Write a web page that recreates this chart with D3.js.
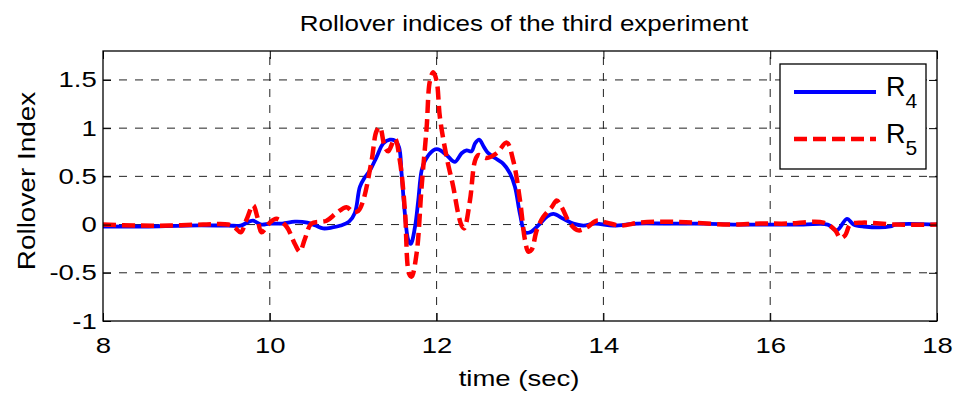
<!DOCTYPE html>
<html>
<head>
<meta charset="utf-8">
<script src="https://cdn.jsdelivr.net/npm/d3@7"></script>
<style>
    body { margin: 0; background: #fff; }
    svg { display: block; font-family: "Liberation Sans", Arial, sans-serif; }
</style>
</head>
<body>
<script>
// R4 (solid blue)
const timeR4 = [8.0, 8.5, 9.0, 9.5, 9.65, 9.75, 9.8, 9.9, 10.0, 10.15, 10.3, 10.45, 10.55, 10.64, 10.75, 10.85,
    10.95, 11.02, 11.08, 11.14, 11.2, 11.28, 11.36, 11.44, 11.5, 11.55, 11.58, 11.62, 11.66, 11.69, 11.74,
    11.78, 11.82, 11.86, 11.96, 12.02, 12.12, 12.22, 12.3, 12.36, 12.42, 12.46, 12.51, 12.57, 12.62, 12.7,
    12.8, 12.88, 12.94, 13.0, 13.06, 13.12, 13.24, 13.32, 13.4, 13.52, 13.64, 13.76, 13.9, 14.12, 14.4,
    14.8, 15.2, 15.6, 16.0, 16.4, 16.69, 16.8, 16.92, 17.0, 17.12, 17.44, 17.5, 18.0];
const valuesR4 = [-0.02, -0.02, -0.01, -0.01, -0.01, 0.03, 0.04, 0.0, 0.01, 0.01, 0.03, 0.02, -0.01, -0.04, -0.03, -0.01,
    0.03, 0.12, 0.39, 0.49, 0.56, 0.7, 0.84, 0.88, 0.87, 0.8, 0.53, 0.11, -0.16, -0.2, -0.03,
    0.25, 0.56, 0.66, 0.77, 0.78, 0.72, 0.65, 0.74, 0.77, 0.76, 0.84, 0.88, 0.8, 0.74, 0.69,
    0.63, 0.53, 0.39, 0.11, -0.08, -0.08, 0.01, 0.08, 0.11, 0.06, 0.01, -0.01, 0.01, -0.01, 0.01,
    0.01, 0.01, 0.0, 0.0, 0.0, 0.0, -0.06, 0.06, 0.0, -0.02, -0.02, 0.0, 0.0];

// R5 (dashed red)
const timeR5 = [8.0, 8.4, 8.8, 9.2, 9.5, 9.58, 9.65, 9.72, 9.8, 9.85, 9.9, 10.0, 10.08, 10.2, 10.3, 10.36, 10.42,
    10.5, 10.68, 10.8, 10.92, 11.0, 11.06, 11.12, 11.22, 11.28, 11.32, 11.38, 11.42, 11.5, 11.56, 11.62,
    11.67, 11.7, 11.76, 11.82, 11.88, 11.92, 11.96, 12.0, 12.04, 12.12, 12.2, 12.26, 12.3, 12.33, 12.4,
    12.46, 12.5, 12.6, 12.72, 12.84, 12.92, 13.0, 13.06, 13.1, 13.14, 13.2, 13.28, 13.38, 13.44, 13.5,
    13.6, 13.7, 13.8, 13.92, 14.04, 14.2, 14.44, 14.76, 15.08, 15.5, 15.88, 16.2, 16.64, 16.78, 16.84,
    16.9, 16.96, 17.1, 17.5, 18.0];
const valuesR5 = [0.0, -0.01, -0.01, 0.0, 0.0, -0.03, -0.08, 0.05, 0.2, 0.08, -0.08, 0.02, 0.06, -0.02, -0.2, -0.28, -0.15,
    0.01, 0.04, 0.12, 0.18, 0.13, 0.14, 0.25, 0.66, 0.97, 1.01, 0.8, 0.76, 0.89, 0.66, 0.15,
    -0.51, -0.54, -0.3, 0.39, 1.0, 1.49, 1.58, 1.49, 1.11, 0.7, 0.39, 0.11, -0.01, -0.04, 0.25,
    0.66, 0.72, 0.69, 0.74, 0.85, 0.66, 0.25, -0.16, -0.28, -0.26, -0.06, 0.08, 0.18, 0.25, 0.18,
    0.01, -0.06, -0.03, 0.04, 0.02, -0.01, 0.02, 0.03, 0.02, 0.0, 0.01, 0.01, 0.02, -0.06, -0.14,
    -0.11, 0.0, 0.02, 0.0, 0.0];

const xTicks = [8, 10, 12, 14, 16, 18];
const yTicks = [-1, -0.5, 0, 0.5, 1, 1.5];
const seriesNames = ['4', '5'];

drawChart();

function drawChart()
{
    const width = 954;
    const height = 395;
    const margin = {top: 51, right: 17, bottom: 74, left: 103};
    const stretch = 'scale(1.25,1)';

    const svg = d3.select('body')
        .append('svg')
        .attr('width', width)
        .attr('height', height);

    const x = d3.scaleLinear([8, 18], [margin.left, width - margin.right]);
    const y = d3.scaleLinear([-1, 1.8], [height - margin.bottom, margin.top]);

    // dashed grid
    const grid = svg.append('g')
        .attr('stroke', '#222')
        .attr('stroke-width', 1)
        .attr('stroke-dasharray', '8,8');

    grid.selectAll('.vgrid')
        .data(xTicks.slice(1, -1))
        .enter()
        .append('line')
        .attr('x1', d => x(d)).attr('x2', d => x(d))
        .attr('y1', y.range()[0]).attr('y2', y.range()[1]);

    grid.selectAll('.hgrid')
        .data(yTicks.slice(1))
        .enter()
        .append('line')
        .attr('x1', x.range()[0]).attr('x2', x.range()[1])
        .attr('y1', d => y(d)).attr('y2', d => y(d));

    // curves
    const line = d3.line()
        .x(d => x(d[0]))
        .y(d => y(d[1]))
        .curve(d3.curveCatmullRom.alpha(0.5));

    svg.append('path')
        .datum(d3.zip(timeR4, valuesR4))
        .attr('fill', 'none')
        .attr('stroke', '#0000ff')
        .attr('stroke-width', 3.8)
        .attr('stroke-linejoin', 'round')
        .attr('d', line);

    svg.append('path')
        .datum(d3.zip(timeR5, valuesR5))
        .attr('fill', 'none')
        .attr('stroke', '#ff0000')
        .attr('stroke-width', 4.5)
        .attr('stroke-dasharray', '13,6')
        .attr('d', line);

    // axes with inward ticks on all sides
    const plain = d => String(d);
    const bottom = svg.append('g')
        .attr('transform', `translate(0,${height - margin.bottom})`)
        .call(d3.axisBottom(x).tickValues(xTicks).tickFormat(plain)
            .tickSizeInner(-8).tickSizeOuter(0).tickPadding(16));
    const left = svg.append('g')
        .attr('transform', `translate(${margin.left},0)`)
        .call(d3.axisLeft(y).tickValues(yTicks).tickFormat(plain)
            .tickSizeInner(-8).tickSizeOuter(0).tickPadding(5));
    svg.append('g')
        .attr('transform', `translate(0,${margin.top})`)
        .call(d3.axisTop(x).tickValues(xTicks).tickSizeInner(-8).tickSizeOuter(0).tickFormat(''));
    svg.append('g')
        .attr('transform', `translate(${width - margin.right},0)`)
        .call(d3.axisRight(y).tickValues(yTicks).tickSizeInner(-8).tickSizeOuter(0).tickFormat(''));

    svg.selectAll('.domain').remove();
    svg.selectAll('.tick line').attr('stroke', '#000');

    [bottom, left].forEach(g =>
    {
        g.selectAll('text')
            .attr('fill', '#000')
            .attr('font-size', 22)
            .attr('font-family', '"Liberation Sans", Arial, sans-serif')
            .attr('transform', stretch);
    });

    svg.append('rect')
        .attr('x', margin.left)
        .attr('y', margin.top)
        .attr('width', width - margin.left - margin.right)
        .attr('height', height - margin.top - margin.bottom)
        .attr('fill', 'none')
        .attr('stroke', '#000')
        .attr('stroke-width', 1.3);

    // title and axis labels
    svg.append('text')
        .attr('transform', 'translate(524,31) scale(1.18,1)')
        .attr('text-anchor', 'middle')
        .attr('font-size', 22)
        .text('Rollover indices of the third experiment');

    svg.append('text')
        .attr('transform', `translate(519,386) ${stretch}`)
        .attr('text-anchor', 'middle')
        .attr('font-size', 22)
        .text('time (sec)');

    svg.append('text')
        .attr('transform', 'translate(35,181) rotate(-90) scale(1.27,1.1)')
        .attr('text-anchor', 'middle')
        .attr('font-size', 22)
        .text('Rollover Index');

    // legend
    const legend = svg.append('g');

    legend.append('rect')
        .attr('x', 780).attr('y', 64)
        .attr('width', 146).attr('height', 105)
        .attr('fill', '#fff')
        .attr('stroke', '#000')
        .attr('stroke-width', 1.3);

    const legendRows = [
        {name: seriesNames[0], color: '#0000ff', width: 3.8, dash: null, y: 92},
        {name: seriesNames[1], color: '#ff0000', width: 4.5, dash: '13,6', y: 139}
    ];

    legendRows.forEach(row =>
    {
        legend.append('line')
            .attr('x1', 794).attr('x2', 876)
            .attr('y1', row.y).attr('y2', row.y)
            .attr('stroke', row.color)
            .attr('stroke-width', row.width)
            .attr('stroke-dasharray', row.dash);

        const label = legend.append('text')
            .attr('x', 886)
            .attr('y', row.y + 4)
            .attr('font-size', 27)
            .text('R');

        label.append('tspan')
            .attr('dy', 12)
            .attr('font-size', 21)
            .text(row.name);
    });
}
</script>
</body>
</html>
